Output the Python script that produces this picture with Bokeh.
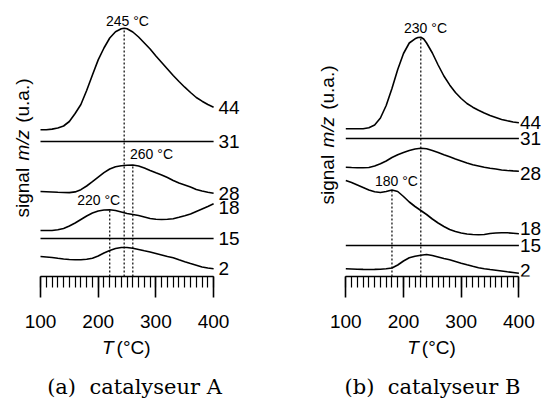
import numpy as np
from bokeh.plotting import figure
from bokeh.models import LinearAxis, FixedTicker, Range1d, Label
from bokeh.layouts import row, column
from bokeh.embed import file_html
from bokeh.resources import INLINE

# ---------------- data ----------------
T = list(range(100, 401, 10))
T_FLAT = [100, 400]
TICKS = [100, 200, 300, 400]
MINOR = list(range(100, 401, 10))
MASSES = ["44", "31", "28", "18", "15", "2"]

# catalyseur A (signal, u.a., stacked)
A_T44 = [100, 110, 120, 130, 140, 150, 160, 170, 180, 190, 200, 210, 220, 230, 240, 245,
         250, 260, 270, 280, 290, 300, 310, 320, 330, 340, 350, 360, 370, 380, 390, 400]
A_44 = [147.7, 147.8, 148.4, 149.5, 151.5, 156.0, 164.0, 173.0, 187.0, 202.5, 217.6, 229.5,
        239.5, 245.8, 248.7, 249.3, 248.7, 245.5, 240.5, 234.5, 228.5, 221.5, 215.0, 208.5,
        202.0, 196.0, 190.3, 185.0, 180.0, 176.3, 173.0, 170.3]
A_31 = [136.0, 136.0]
A_28 = [86.0, 85.8, 85.5, 85.2, 85.0, 84.9, 85.6, 87.8, 91.5, 95.8, 100.3, 104.8, 108.5,
        110.7, 111.7, 112.2, 112.5, 111.5, 109.5, 107.0, 104.7, 102.5, 100.0, 97.0, 94.5,
        92.5, 90.5, 88.0, 86.5, 85.2, 84.3]
A_18 = [47.0, 47.0, 47.0, 47.7, 49.0, 51.5, 54.5, 58.0, 61.5, 64.5, 66.5, 67.5, 67.7, 67.0,
        65.5, 64.0, 63.0, 62.0, 60.5, 59.0, 58.2, 58.0, 58.2, 58.8, 60.2, 61.8, 63.5, 66.0,
        68.5, 71.0, 73.7]
A_15 = [39.0, 39.0]
A_2 = [21.0, 20.5, 20.0, 19.2, 18.5, 18.0, 17.7, 17.7, 18.3, 19.3, 21.5, 24.5, 27.0, 29.0,
       30.0, 30.0, 29.3, 28.0, 26.7, 25.5, 24.0, 22.5, 21.0, 19.7, 17.7, 15.8, 14.0, 12.3,
       10.5, 9.5, 8.7]
A_PEAKS = [245, 260, 220]
A_PEAK_MASS = ["44", "28", "18"]

# catalyseur B
B_T44 = [100, 110, 120, 130, 140, 150, 160, 170, 180, 190, 200, 210, 220, 225, 230, 235,
         240, 250, 260, 270, 280, 290, 300, 310, 320, 330, 340, 350, 360, 370, 380, 390, 400]
B_44 = [148.7, 148.7, 148.7, 148.8, 149.8, 152.5, 159.5, 172.0, 189.0, 208.0, 224.0, 234.5,
        238.7, 240.0, 240.3, 238.5, 234.5, 224.5, 212.5, 201.5, 192.6, 185.0, 179.0, 174.0,
        170.3, 167.2, 164.5, 162.0, 160.0, 158.0, 156.7, 155.5, 154.7]
B_31 = [139.0, 139.0]
B_28 = [110.3, 110.0, 109.8, 109.8, 110.0, 111.5, 113.7, 116.5, 120.0, 122.7, 125.0, 127.0,
        128.5, 129.3, 128.7, 127.0, 125.0, 122.8, 120.7, 118.5, 116.5, 114.5, 112.7, 111.5,
        110.3, 109.3, 108.5, 107.5, 107.0, 106.6, 106.3]
B_18 = [97.0, 95.0, 92.5, 90.0, 87.5, 85.7, 85.0, 86.0, 87.5, 86.0, 81.0, 75.5, 71.0, 67.0,
        63.0, 58.5, 54.5, 51.0, 48.0, 46.0, 44.5, 43.5, 43.0, 42.7, 43.0, 44.0, 44.5, 44.8,
        44.7, 44.2, 43.7]
B_15 = [32.0, 32.0]
B_2 = [8.7, 8.5, 8.3, 8.1, 8.0, 8.1, 8.3, 8.7, 9.5, 12.5, 16.5, 19.7, 21.2, 22.3, 23.0, 22.0,
       20.5, 19.0, 17.7, 16.0, 14.3, 12.7, 11.2, 9.8, 8.8, 8.0, 7.3, 6.5, 5.7, 5.0, 4.3]
B_PEAKS = [230, 180]
B_PEAK_MASS = ["44", "18"]

CAPTION_A = "(a)\u00a0 catalyseur A"
CAPTION_B = "(b)\u00a0 catalyseur B"

# ---------------- layout / style ----------------
K = 0.577          # px per degree C
AXIS_PY = 277      # y value = AXIS_PY - page pixel row
MAIN_H = 336
BOT_H = 67
SANS = "Liberation Sans"
SERIF = "DejaVu Serif"
INK = "black"


def base_fig(width, height, xr, yr, **kw):
    return figure(width=width, height=height, x_range=xr, y_range=yr,
                  x_axis_type=None, y_axis_type=None, toolbar_location=None,
                  output_backend="svg", min_border_left=0, min_border_right=0,
                  min_border_top=0, outline_line_color=None,
                  background_fill_color="white", border_fill_color="white", **kw)


def lab(x, y, text, size="19px", font=SANS, **kw):
    kw.setdefault("text_align", "left")
    kw.setdefault("text_baseline", "middle")
    return Label(x=x, y=y, text=text, text_font=font, text_font_size=size,
                 text_color=INK, **kw)


def make_panel(left, width, p0, curves, peaks, peak_masses, ann_off, lab_x, lab_nudge,
               ylab_x, ylab_pos, caption, cap_x):
    x0 = 100 - (p0 - left) / K
    x1 = x0 + width / K

    def tx(px):
        return 100 + (px - p0) / K

    def ty(py):
        return AXIS_PY - py

    p = base_fig(width, MAIN_H, Range1d(x0, x1), Range1d(ty(276), ty(0)),
                 min_border_bottom=MAIN_H - 276)

    ax = LinearAxis(ticker=FixedTicker(ticks=TICKS, minor_ticks=MINOR), bounds=(100, 400),
                    major_tick_out=21, major_tick_in=0, minor_tick_out=11, minor_tick_in=0,
                    axis_line_width=1.6, major_tick_line_width=1.6, minor_tick_line_width=1.2,
                    axis_line_color=INK, major_tick_line_color=INK,
                    minor_tick_line_color=INK,
                    major_label_text_font=SANS, major_label_text_font_size="19px",
                    major_label_text_color=INK, major_label_standoff=17)
    p.add_layout(ax, "below")

    for m in MASSES:
        tc, yc = curves[m]
        p.line(tc, yc, line_color=INK, line_width=1.6)
        p.add_layout(lab(tx(lab_x), yc[-1] + lab_nudge.get(m, 0), m))

    for tp, m, (dx, dy) in zip(peaks, peak_masses, ann_off):
        tc, yc = curves[m]
        yp = float(np.interp(tp, tc, yc))
        p.segment(x0=[tp], y0=[ty(276)], x1=[tp], y1=[yp], line_color=INK,
                  line_width=1.2, line_dash="2 2")
        p.add_layout(lab(tp + dx / K, yp + dy, f"{tp} °C", size="14px", text_align="center"))

    # y label: signal m/z (u.a.)
    ys, ym, yu = ylab_pos
    p.add_layout(lab(tx(ylab_x), ty(ys), "signal", angle=np.pi / 2))
    p.add_layout(lab(tx(ylab_x), ty(ym), "m/z", angle=np.pi / 2, text_font_style="italic",
                     text_align="center"))
    p.add_layout(lab(tx(ylab_x), ty(yu), "(u.a.)", angle=np.pi / 2))

    # bottom strip: axis title and caption
    b = base_fig(width, BOT_H, Range1d(x0, x1), Range1d(ty(MAIN_H + BOT_H), ty(MAIN_H)),
                 min_border_bottom=0)
    b.add_layout(lab(250 - 13.5 / K, ty(347), "T", text_font_style="italic",
                     text_align="right"))
    b.add_layout(lab(250 - 10.5 / K, ty(347), "(°C)"))
    b.add_layout(lab(tx(cap_x), ty(386), caption, size="21px", font=SERIF,
                     text_align="center"))
    return column(p, b, spacing=0)


curves_a = {"44": (A_T44, A_44), "31": (T_FLAT, A_31), "28": (T, A_28),
            "18": (T, A_18), "15": (T_FLAT, A_15), "2": (T, A_2)}
curves_b = {"44": (B_T44, B_44), "31": (T_FLAT, B_31), "28": (T, B_28),
            "18": (T, B_18), "15": (T_FLAT, B_15), "2": (T, B_2)}

pa = make_panel(left=0, width=272, p0=40.0, curves=curves_a, peaks=A_PEAKS,
                peak_masses=A_PEAK_MASS, ann_off=[(3.3, 7.7), (18.7, 11.5), (-11, 10)],
                lab_x=218, lab_nudge={"18": -3.7}, ylab_x=22, ylab_pos=(217, 144.6, 122.3),
                caption=CAPTION_A, cap_x=134)
pb = make_panel(left=272, width=272, p0=345.3, curves=curves_b, peaks=B_PEAKS,
                peak_masses=B_PEAK_MASS, ann_off=[(4.7, 9.7), (4.5, 9.5)],
                lab_x=519.5, lab_nudge={"18": 5.3, "28": -2.3, "2": 2.5}, ylab_x=327,
                ylab_pos=(204, 131.6, 109.3), caption=CAPTION_B, cap_x=432)

layout = row(pa, pb, spacing=0)
open("out.html", "w").write(file_html(layout, INLINE))
